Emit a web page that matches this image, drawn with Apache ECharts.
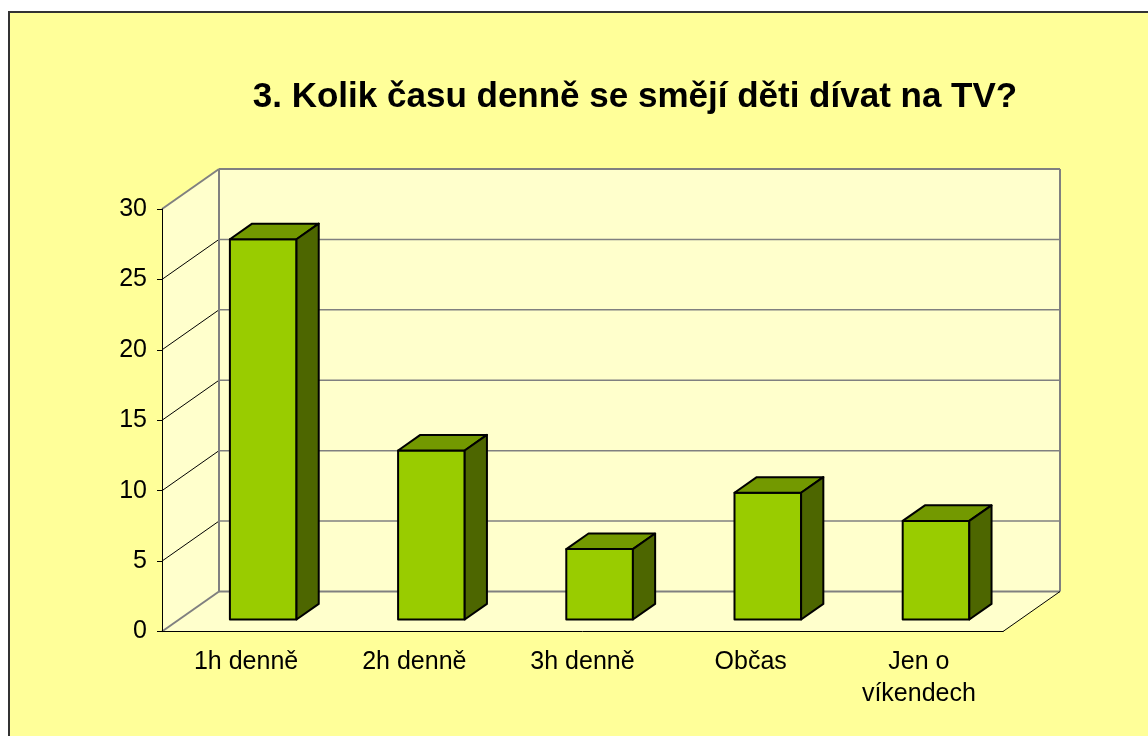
<!DOCTYPE html>
<html>
<head>
<meta charset="utf-8">
<script src="https://cdn.jsdelivr.net/npm/echarts@6/dist/echarts.min.js"></script>
<style>
  html, body { margin: 0; padding: 0; background: #fff; overflow: hidden; }
  #frame { position: absolute; left: 8px; top: 11px; width: 1300px; height: 900px;
           border: 2px solid #333; background: #ffff99; }
  #main { position: absolute; left: 0; top: 0; width: 1148px; height: 736px; }
</style>
</head>
<body>
<div id="frame"></div>
<div id="main"></div>
<script>
// data
const categories = ['1h denně', '2h denně', '3h denně', 'Občas', 'Jen o\nvíkendech']
const values = [27, 12, 5, 9, 7]
const yTicks = [0, 5, 10, 15, 20, 25, 30]

// pseudo 3D look (pixels of depth, and where bars sit inside that depth)
const DEPTH = [57, -40]
const BAR_FRONT = 0.3
const BAR_BACK = 0.69
const BAR_WIDTH = 0.396

const WALL = '#ffffcc'
const EDGE = '#808080'

let chart = echarts.init(document.getElementById('main'), null, { renderer: 'canvas' })

// back wall, side wall, floor + gridlines
function renderWalls(params, api) {
  const cw = api.size([1, 0])[0]
  const left = api.coord([0, 0])[0] - cw / 2
  const right = api.coord([categories.length - 1, 0])[0] + cw / 2
  const y0 = api.coord([0, yTicks[0]])[1]
  const yTop = api.coord([0, yTicks[yTicks.length - 1]])[1]
  const dx = DEPTH[0], dy = DEPTH[1]
  const line = (x1, y1, x2, y2, color, width) => ({
    type: 'line', shape: { x1, y1, x2, y2 }, style: { stroke: color, lineWidth: width }
  })
  const poly = (points) => ({ type: 'polygon', shape: { points }, style: { fill: WALL } })

  let children = [
    poly([[left + dx, yTop + dy], [right + dx, yTop + dy], [right + dx, y0 + dy], [left + dx, y0 + dy]]),
    poly([[left, y0], [left, yTop], [left + dx, yTop + dy], [left + dx, y0 + dy]]),
    poly([[left, y0], [left + dx, y0 + dy], [right + dx, y0 + dy], [right, y0]])
  ]
  yTicks.slice(1, -1).forEach(t => {
    const y = api.coord([0, t])[1]
    children.push(line(left + dx, y + dy, right + dx, y + dy, EDGE, 1.5))
    children.push(line(left, y, left + dx, y + dy, '#000', 1))
  })
  children.push(
    line(left, yTop, left + dx, yTop + dy, EDGE, 2),
    line(left, y0, left + dx, y0 + dy, EDGE, 2),
    line(left + dx, yTop + dy, right + dx, yTop + dy, EDGE, 2),
    line(left + dx, yTop + dy, left + dx, y0 + dy, EDGE, 2),
    line(right + dx, yTop + dy, right + dx, y0 + dy, EDGE, 2),
    line(left + dx, y0 + dy, right + dx, y0 + dy, EDGE, 2),
    line(right, y0, right + dx, y0 + dy, '#000', 1)
  )
  return { type: 'group', children }
}

// 3D-looking bar: front, top, side
function renderBar(params, api) {
  const i = api.value(0)
  const v = api.value(1)
  const c = api.coord([i, v])
  const b = api.coord([i, 0])
  const w = api.size([1, 0])[0] * BAR_WIDTH
  const fx = DEPTH[0] * BAR_FRONT, fy = DEPTH[1] * BAR_FRONT
  const ddx = DEPTH[0] * (BAR_BACK - BAR_FRONT), ddy = DEPTH[1] * (BAR_BACK - BAR_FRONT)
  const x0 = c[0] - w / 2 + fx
  const x1 = x0 + w
  const top = c[1] + fy
  const bot = b[1] + fy
  const st = (fill) => ({ fill, stroke: '#000', lineWidth: 2, lineJoin: 'round' })
  return {
    type: 'group',
    children: [
      { type: 'polygon', shape: { points: [[x0, top], [x1, top], [x1, bot], [x0, bot]] }, style: st('#99cc00') },
      { type: 'polygon', shape: { points: [[x0, top], [x1, top], [x1 + ddx, top + ddy], [x0 + ddx, top + ddy]] }, style: st('#739900') },
      { type: 'polygon', shape: { points: [[x1, top], [x1 + ddx, top + ddy], [x1 + ddx, bot + ddy], [x1, bot]] }, style: st('#4d6600') }
    ]
  }
}

const font = 'Liberation Sans, Arial, sans-serif'

let option = {
  animation: false,
  backgroundColor: 'transparent',
  title: {
    text: '3. Kolik času denně se smějí děti dívat na TV?',
    left: 630,
    textAlign: 'center',
    top: 75,
    textStyle: { fontSize: 35, fontWeight: 'bold', color: '#000', fontFamily: font }
  },
  grid: { left: 162, right: 145, top: 209, bottom: 104.5 },
  xAxis: {
    type: 'category',
    data: categories,
    z: 5,
    axisLine: { lineStyle: { color: '#000', width: 1 } },
    axisTick: { length: 7, lineStyle: { color: '#000' } },
    axisLabel: { fontSize: 25, color: '#000', margin: 15, lineHeight: 32, fontFamily: font }
  },
  yAxis: {
    type: 'value',
    min: 0,
    max: 30,
    interval: 5,
    z: 5,
    axisLine: { show: true, lineStyle: { color: '#000', width: 1 } },
    axisTick: { show: true, length: 5, lineStyle: { color: '#000' } },
    splitLine: { show: false },
    axisLabel: { fontSize: 25, color: '#000', margin: 15, fontFamily: font }
  },
  series: [
    {
      type: 'custom',
      z: 1,
      silent: true,
      renderItem: renderWalls,
      data: [[0]]
    },
    {
      type: 'custom',
      z: 2,
      renderItem: renderBar,
      data: values.map((v, i) => [i, v])
    }
  ]
}

chart.setOption(option)
</script>
</body>
</html>
